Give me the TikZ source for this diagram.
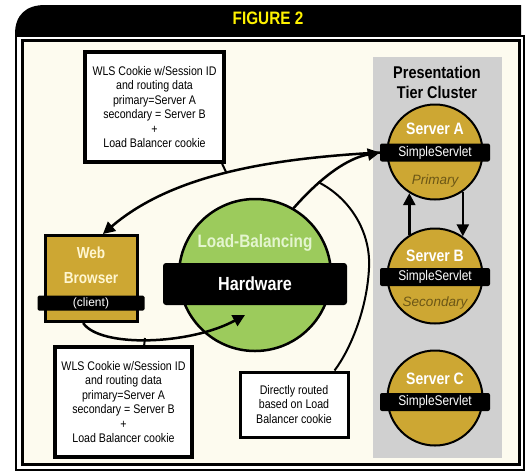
\documentclass[tikz,border=0pt]{standalone}
\usepackage{fontspec}
\setmainfont{Liberation Sans}
\newfontfamily\cf{Liberation Sans}[FakeStretch=0.85]
\usetikzlibrary{arrows.meta}
\definecolor{cream}{HTML}{FDFBEF}
\definecolor{gold}{HTML}{CDA733}
\definecolor{lbgreen}{HTML}{9CCB5C}
\definecolor{panelgrey}{HTML}{D0D0D0}
\definecolor{figyellow}{HTML}{FFF200}
\definecolor{lblabel}{HTML}{E4F5CF}
\definecolor{webtxt}{HTML}{FFF6D0}
\definecolor{roletxt}{HTML}{6B5616}
\begin{document}
\begin{tikzpicture}[x=1pt,y=-1pt,
  server/.style={circle, draw=black, line width=2pt, fill=gold, minimum size=95pt, inner sep=0pt},
  banner/.style={fill=black, rounded corners=2pt, minimum width=110pt, minimum height=18pt, inner sep=0pt, text=white, font=\cf\fontsize{14}{14}\selectfont},
  srvname/.style={text=white, font=\cf\bfseries\fontsize{16.5}{16.5}\selectfont, inner sep=0pt},
  role/.style={text=roletxt, font=\itshape\fontsize{13.5}{13.5}\selectfont, inner sep=0pt},
  note/.style={draw=black, line width=3.5pt, fill=white, align=center, inner sep=0pt, font=\cf\fontsize{12.5}{14.5}\selectfont},
  conn/.style={line width=2.5pt, black},
  arr/.style={conn, -{Triangle[length=12pt,width=12pt]}},
  thin conn/.style={line width=2pt, black},
]
\useasboundingbox (0,0) rectangle (529,472);
\fill[white] (0,0) rectangle (529,472);
% header
\fill[black] (15,36) -- (15,34) .. controls (15,15) and (26,5) .. (45,5) -- (521,5) -- (521,36) -- cycle;
\node[text=figyellow, font=\cf\bfseries\fontsize{18}{18}\selectfont, inner sep=0pt] (title) at (268,18.5) {FIGURE 2};
% frame
\fill[white] (16,36) rectangle (524,470);
\draw[black, line width=2pt] (16,36) rectangle (524,470);
\fill[cream] (22,40.5) rectangle (519,464.5);
\draw[black, line width=3pt] (22,40.5) rectangle (519,464.5);
% cluster panel
\fill[panelgrey] (373,57) rectangle (502,458);
\node[align=center, font=\cf\bfseries\fontsize{17}{20}\selectfont, inner sep=0pt] (clusterlbl) at (437,82) {Presentation\\Tier Cluster};
% servers
\node[server] (sA) at (435,152) {};
\node[server] (sB) at (435,276) {};
\node[server] (sC) at (435,398) {};
\node[banner] (bA) at (435,152.5) {SimpleServlet};
\node[banner] (bB) at (435,277) {SimpleServlet};
\node[banner] (bC) at (435,402) {SimpleServlet};
\node[srvname] (nA) at (435,129) {Server A};
\node[srvname] (nB) at (435,256) {Server B};
\node[srvname] (nC) at (435,379) {Server C};
\node[role] (rA) at (435,181) {Primary};
\node[role] (rB) at (435,303) {Secondary};
% load balancer
\node[circle, draw=black, line width=2.5pt, fill=lbgreen, minimum size=152pt, inner sep=0pt] (lb) at (255,275) {};
\node[fill=black, rounded corners=3pt, minimum width=184pt, minimum height=42pt, inner sep=0pt, text=white, font=\cf\bfseries\fontsize{19}{19}\selectfont] (lbband) at (255,284) {Hardware};
\node[text=lblabel, font=\cf\bfseries\fontsize{18}{18}\selectfont, inner sep=0pt] (lblbl) at (255,243) {Load-Balancing};
% web browser
\node[draw=black, line width=3pt, fill=gold, minimum width=92pt, minimum height=86pt, inner sep=0pt] (wb) at (91,278.5) {};
\node[text=webtxt, font=\cf\bfseries\fontsize{16}{16}\selectfont, inner sep=0pt] (wbl1) at (91,253) {Web};
\node[text=webtxt, font=\cf\bfseries\fontsize{16}{16}\selectfont, inner sep=0pt] (wbl2) at (91,278) {Browser};
\node[fill=black, rounded corners=1.5pt, minimum width=107pt, minimum height=15pt, inner sep=0pt, text=white, font=\fontsize{12}{12}\selectfont] (wbband) at (91,303) {(client)};
% notes
\node[note, minimum width=139pt, minimum height=110pt] (n1) at (154.5,107) {WLS Cookie w/Session ID\\and routing data\\primary=Server A\\secondary = Server B\\+\\Load Balancer cookie};
\node[note, minimum width=137pt, minimum height=110pt] (n2) at (123.5,402) {WLS Cookie w/Session ID\\and routing data\\primary=Server A\\secondary = Server B\\+\\Load Balancer cookie};
\node[note, line width=3pt, minimum width=108pt, minimum height=65pt] (n3) at (294,404.5) {Directly routed\\based on Load\\Balancer cookie};
% coordinates
\coordinate (lbIn) at (245,315);
\coordinate (lbJoin) at (318,182);
\coordinate (t1) at (226,172);
\coordinate (t2) at (145,338);
% connectors
\draw[arr] (bA.west) .. controls (280,158) and (175,172) .. (wb.75);
\draw[arr] (lb.60) .. controls (322,176) and (348,158) .. (bA.west);
\draw[arr] (wb.260) .. controls (100,348) and (190,345) .. (lbIn);
\draw[thin conn] (lbJoin) .. controls (350,198) and (371,232) .. (369,268) .. controls (367,310) and (350,350) .. (n3.40);
\draw[thin conn] (n1.-40) -- (t1);
\draw[thin conn] (n2.70) -- (t2);
\draw[arr] (sB.122) -- (sA.238);
\draw[arr] (sA.305) -- (sB.55);
\end{tikzpicture}
\end{document}
